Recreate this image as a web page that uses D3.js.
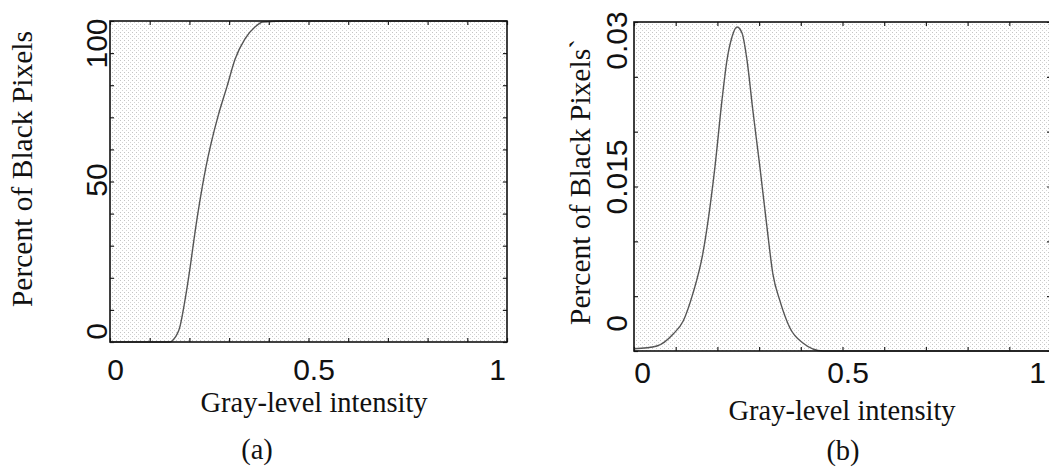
<!DOCTYPE html>
<html>
<head>
<meta charset="utf-8">
<script src="https://cdn.jsdelivr.net/npm/d3@7/dist/d3.min.js"></script>
<style>
  html, body { margin: 0; padding: 0; background: #fff; }
  svg { display: block; }
  .tick-lab { font-family: "Liberation Sans Narrow", "Liberation Sans", "Arial Narrow", sans-serif; font-size: 30px; fill: #111; }
  .title { font-family: "Liberation Serif", "Times New Roman", serif; font-size: 28.5px; fill: #111; }
  .ytitle { font-size: 29.5px; }
</style>
</head>
<body>
<svg id="chart" width="1049" height="474"></svg>
<script>
// ---------- Data ----------
// Panel (a): cumulative percent of black pixels vs gray-level intensity
const intensityA = [0, 0.05, 0.10, 0.123, 0.151, 0.160, 0.176, 0.189, 0.202, 0.214, 0.227, 0.239, 0.257, 0.272, 0.295, 0.315, 0.340, 0.365, 0.385, 0.45, 0.6, 0.8, 1.0];
const percentA   = [0, 0, 0, 0, 0, 0.8, 4.7, 13.1, 23.4, 34.1, 44.4, 52.8, 63.1, 70.3, 79.7, 88.1, 94.4, 98.1, 99.7, 100, 100, 100, 100];
// Panel (b): distribution of black pixels vs gray-level intensity
const intensityB = [0, 0.055, 0.094, 0.118, 0.141, 0.165, 0.182, 0.194, 0.211, 0.223, 0.235, 0.247, 0.259, 0.271, 0.285, 0.302, 0.319, 0.333, 0.350, 0.374, 0.405, 0.453, 0.6, 0.8, 1.0];
const percentB   = [0.0002, 0.00046, 0.00155, 0.00274, 0.00521, 0.00887, 0.01308, 0.01674, 0.02287, 0.02652, 0.02863, 0.02954, 0.02899, 0.02652, 0.02195, 0.01674, 0.01125, 0.00704, 0.00457, 0.0021, 0.00073, 0, 0, 0, 0];
// Tick labels
const xTickLabels = [0, 0.5, 1];
const yTickLabelsA = [0, 50, 100];
const yTickLabelsB = [0, 0.015, 0.03];
const yMinorStepA = 10;
const yMinorStepB = 0.005;
const xMinorStep = 0.1;
const xTitle = "Gray-level intensity";
const yTitleA = "Percent of Black Pixels";
const yTitleB = "Percent of Black Pixels`";
const panelLabels = ["(a)", "(b)"];

// ---------- Drawing ----------
const svg = d3.select("#chart");
const defs = svg.append("defs");
const pat = defs.append("pattern").attr("id", "stipple").attr("width", 4).attr("height", 4)
  .attr("patternUnits", "userSpaceOnUse");
pat.append("rect").attr("width", 4).attr("height", 4).attr("fill", "#fff");
pat.append("rect").attr("x", 0).attr("y", 0).attr("width", 1).attr("height", 1).attr("fill", "#c4c4c4");
pat.append("rect").attr("x", 2).attr("y", 2).attr("width", 1).attr("height", 1).attr("fill", "#d4d4d4");

function drawPanel(cfg) {
  const x = d3.scaleLinear().domain([0, 1]).range([cfg.left, cfg.right]);
  const y = d3.scaleLinear().domain(cfg.yDomain).range([cfg.bottom, cfg.top]);
  const g = svg.append("g");

  // background
  g.append("rect").attr("x", cfg.left).attr("y", cfg.top)
    .attr("width", cfg.right - cfg.left).attr("height", cfg.bottom - cfg.top)
    .attr("fill", "url(#stipple)");

  // minor inward ticks
  const xt = d3.range(0, 1.0001, xMinorStep);
  const yt = d3.range(cfg.yDomain[0], cfg.yDomain[1] + cfg.yStep / 2, cfg.yStep);
  const tickStyle = s => s.call(a => a.select(".domain").remove())
    .selectAll("line").attr("stroke", "#222").attr("stroke-width", 1.2);
  g.append("g").attr("transform", `translate(0,${cfg.bottom})`)
    .call(d3.axisBottom(x).tickValues(xt).tickSize(-4).tickFormat("")).call(tickStyle);
  g.append("g").attr("transform", `translate(0,${cfg.top})`)
    .call(d3.axisTop(x).tickValues(xt).tickSize(-4).tickFormat("")).call(tickStyle);
  g.append("g").attr("transform", `translate(${cfg.left},0)`)
    .call(d3.axisLeft(y).tickValues(yt).tickSize(-4).tickFormat("")).call(tickStyle);
  g.append("g").attr("transform", `translate(${cfg.right},0)`)
    .call(d3.axisRight(y).tickValues(yt).tickSize(-4).tickFormat("")).call(tickStyle);

  // curve
  const pts = cfg.xs.map((v, i) => [v, cfg.ys[i]]);
  g.append("path").datum(pts)
    .attr("fill", "none").attr("stroke", "#555").attr("stroke-width", 1.4)
    .attr("d", d3.line().x(d => x(d[0])).y(d => y(d[1])).curve(d3.curveMonotoneX));

  // frame
  g.append("rect").attr("x", cfg.left).attr("y", cfg.top)
    .attr("width", cfg.right - cfg.left).attr("height", cfg.bottom - cfg.top)
    .attr("fill", "none").attr("stroke", "#111").attr("stroke-width", 1.6);

  // x tick labels
  const xl = g.append("g").attr("transform", `translate(0,${cfg.bottom})`)
    .call(d3.axisBottom(x).tickValues(xTickLabels).tickSize(0).tickFormat(d3.format("")));
  xl.select(".domain").remove();
  xl.attr("font-size", null).attr("font-family", null);
  xl.selectAll("text").attr("class", "tick-lab")
    .attr("dy", 0).attr("y", cfg.xLabBase).attr("text-anchor", "middle")
    .attr("x", (d, i) => cfg.xLabOff[i]);

  // y tick labels (rotated)
  const yl = g.append("g").attr("transform", `translate(${cfg.left},0)`)
    .call(d3.axisLeft(y).tickValues(cfg.yLabels).tickSize(0).tickFormat(d3.format("")));
  yl.select(".domain").remove();
  yl.attr("font-size", null).attr("font-family", null);
  yl.selectAll("text").attr("class", "tick-lab").attr("x", null).attr("dy", null)
    .attr("text-anchor", "middle")
    .attr("transform", (d, i) => `translate(${cfg.yLabBase},${cfg.yLabOff[i]}) rotate(-90)`);

  // titles
  svg.append("text").attr("class", "title").attr("text-anchor", "middle")
    .attr("x", cfg.xTitleX).attr("y", cfg.xTitleY).text(xTitle);
  svg.append("text").attr("class", "title ytitle").attr("text-anchor", "middle")
    .attr("transform", `translate(${cfg.yTitleX},${cfg.yTitleY}) rotate(-90)`).text(cfg.yTitle);
  svg.append("text").attr("class", "title").attr("text-anchor", "middle")
    .attr("x", cfg.panelX).attr("y", cfg.panelY).text(cfg.panelLabel);
}

drawPanel({
  left: 110, right: 507, top: 21, bottom: 342,
  yDomain: [0, 100], yStep: yMinorStepA, yLabels: yTickLabelsA,
  xs: intensityA, ys: percentA,
  xLabBase: 38, xLabOff: [5, 5, -10],
  yLabBase: -3, yLabOff: [-11, -2, 22],
  xTitleX: 314, xTitleY: 412, yTitleX: 32, yTitleY: 169, yTitle: yTitleA,
  panelX: 257, panelY: 459, panelLabel: panelLabels[0]
});
drawPanel({
  left: 634, right: 1051, top: 22, bottom: 351,
  yDomain: [0, 0.03], yStep: yMinorStepB, yLabels: yTickLabelsB,
  xs: intensityB, ys: percentB,
  xLabBase: 32, xLabOff: [8, 5, -14],
  yLabBase: -7, yLabOff: [-28, -10, 18],
  xTitleX: 842, xTitleY: 420, yTitleX: 590, yTitleY: 182, yTitle: yTitleB,
  panelX: 843, panelY: 460, panelLabel: panelLabels[1]
});
</script>
</body>
</html>
